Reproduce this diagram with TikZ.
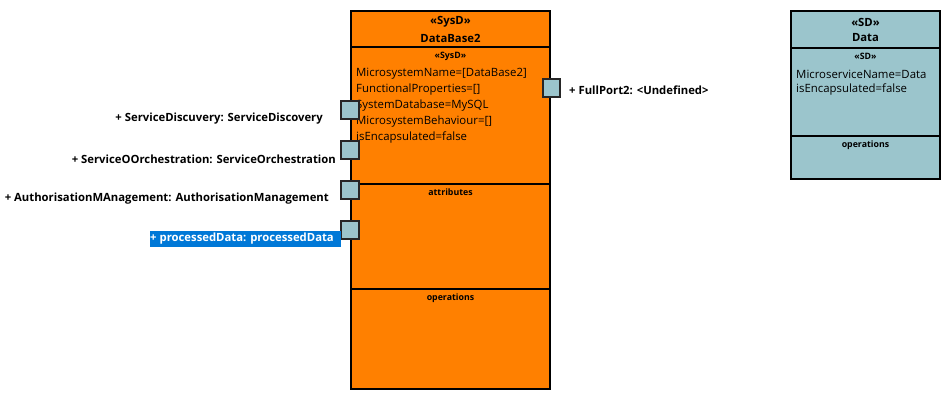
\documentclass[tikz,border=0pt]{standalone}
\usepackage{fontspec}
\setmainfont{Open Sans}
\definecolor{blockorange}{RGB}{255,128,0}
\definecolor{portblue}{RGB}{155,197,204}
\definecolor{selblue}{RGB}{0,120,215}
\begin{document}
\begin{tikzpicture}[x=1pt,y=-1pt,
    txt/.style={inner sep=0pt, font=\fontsize{11.4}{13}\selectfont},
    bold/.style={inner sep=0pt, font=\fontsize{11.3}{13}\selectfont\bfseries},
    tiny/.style={inner sep=0pt, font=\fontsize{8.8}{10}\selectfont\bfseries},
    port/.style={color=black!85, fill=portblue, line width=1.5pt}]
    \useasboundingbox (0,0) rectangle (950,401);

    % DataBase2 block
    \filldraw[color=black, fill=blockorange, line width=1.5pt] (351,11) rectangle (550,389);
    \draw[line width=1.5pt] (351,47) -- (550,47);
    \draw[line width=1.2pt] (351,184) -- (550,184);
    \draw[line width=1.2pt] (351,289) -- (550,289);
    \node[bold] (dbst) at (450.5,22) {«SysD»};
    \node[bold] (dbname) at (450.5,38) {DataBase2};
    \node[tiny] (dbst2) at (450.5,56) {«SysD»};
    \node[txt, anchor=west] (dbl1) at (356,74) {MicrosystemName=[DataBase2]};
    \node[txt, anchor=west] (dbl2) at (356,90) {FunctionalProperties=[]};
    \node[txt, anchor=west] (dbl3) at (356,106) {SystemDatabase=MySQL};
    \node[txt, anchor=west] (dbl4) at (356,122) {MicrosystemBehaviour=[]};
    \node[txt, anchor=west] (dbl5) at (356,138) {isEncapsulated=false};
    \node[tiny] (dbattr) at (450.5,192) {attributes};
    \node[tiny] (dbops) at (450.5,298) {operations};

    % Data block
    \filldraw[color=black, fill=portblue, line width=1.5pt] (791,11) rectangle (940,179);
    \draw[line width=1.5pt] (791,48) -- (940,48);
    \draw[line width=1.2pt] (791,136) -- (940,136);
    \node[bold] (sdst) at (865.5,22) {«SD»};
    \node[bold] (sdname) at (865.5,38) {Data};
    \node[tiny] (sdst2) at (865.5,56) {«SD»};
    \node[txt, anchor=west] (sdl1) at (796,74) {MicroserviceName=Data};
    \node[txt, anchor=west] (sdl2) at (796,90) {isEncapsulated=false};
    \node[tiny] (sdops) at (865.5,145) {operations};

    % ports
    \filldraw[port] (341,101) rectangle (359,119);
    \filldraw[port] (341,141) rectangle (359,159);
    \filldraw[port] (341,181) rectangle (359,199);
    \filldraw[port] (341,221) rectangle (359,239);
    \filldraw[port] (543,79) rectangle (560,97);

    \fill[selblue] (150,231) rectangle (341,247);
    \node[bold, anchor=east] (p1) at (323,119) {+ ServiceDiscuvery: ServiceDiscovery};
    \node[bold, anchor=east] (p2) at (336,159) {+ ServiceOOrchestration: ServiceOrchestration};
    \node[bold, anchor=east] (p3) at (329,199) {+ AuthorisationMAnagement: AuthorisationManagement};
    \node[bold, anchor=east, text=white] (p4) at (334,239) {+ processedData: processedData};
    \node[bold, anchor=west] (p5) at (569,90) {+ FullPort2: <Undefined>};
\end{tikzpicture}
\end{document}
